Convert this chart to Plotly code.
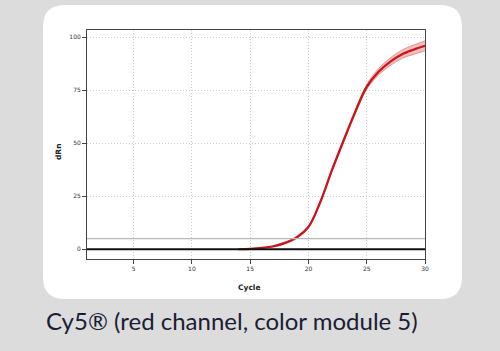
import plotly.graph_objects as go

cycles = [14, 15, 16, 17, 18, 19, 20, 21, 22, 23, 24, 25, 26, 27, 28, 29, 30]
dRn_mean = [0.0, 0.2, 0.6, 1.4, 3.0, 5.6, 10.5, 22.0, 37.0, 51.0, 64.5, 76.5, 83.5, 88.3, 91.8, 94.0, 95.8]
dRn_spread = [0.0, 0.1, 0.2, 0.3, 0.4, 0.5, 0.6, 0.7, 0.8, 0.9, 1.0, 1.2, 1.5, 1.8, 2.0, 2.2, 2.4]
threshold = 5
x_ticks = [5, 10, 15, 20, 25, 30]
y_ticks = [0, 25, 50, 75, 100]
caption = "Cy5\u00ae (red channel, color module 5)"

W, H = 500, 351
ml, mr, mt, mb = 87, 75, 30, 92
pw, ph = W - ml - mr, H - mt - mb

def px(x):
    return (x - ml) / pw

def py(y):
    return (H - mb - y) / ph

upper = [m + s for m, s in zip(dRn_mean, dRn_spread)]
lower = [m - s for m, s in zip(dRn_mean, dRn_spread)]

fig = go.Figure()
fig.add_trace(go.Scatter(x=cycles, y=upper, mode="lines", line=dict(color="rgba(220,70,70,0.6)", width=0.8, shape="spline"),
                         showlegend=False, hoverinfo="skip"))
fig.add_trace(go.Scatter(x=cycles, y=lower, mode="lines", line=dict(color="rgba(220,70,70,0.6)", width=0.8, shape="spline"),
                         fill="tonexty", fillcolor="rgba(230,110,110,0.45)", showlegend=False, hoverinfo="skip"))
fig.add_trace(go.Scatter(x=cycles, y=dRn_mean, mode="lines", line=dict(color="#c8141a", width=2.2, shape="spline"),
                         showlegend=False))

# threshold and baseline
fig.add_shape(type="line", xref="paper", x0=0, x1=1, yref="y", y0=threshold, y1=threshold,
              line=dict(color="#b8b8b8", width=1.2), layer="above")
fig.add_shape(type="line", xref="paper", x0=0, x1=1, yref="y", y0=0, y1=0,
              line=dict(color="#111111", width=2.2), layer="above")

# rounded white card
x0, x1, y0, y1, r = 43, 462, 5, 299, 22
path = (f"M {px(x0+r)} {py(y0)} L {px(x1-r)} {py(y0)} Q {px(x1)} {py(y0)} {px(x1)} {py(y0+r)} "
        f"L {px(x1)} {py(y1-r)} Q {px(x1)} {py(y1)} {px(x1-r)} {py(y1)} "
        f"L {px(x0+r)} {py(y1)} Q {px(x0)} {py(y1)} {px(x0)} {py(y1-r)} "
        f"L {px(x0)} {py(y0+r)} Q {px(x0)} {py(y0)} {px(x0+r)} {py(y0)} Z")
fig.add_shape(type="path", xref="paper", yref="paper", path=path, fillcolor="white",
              line=dict(width=0), layer="below")

fig.add_annotation(text="<b>dRn</b>", xref="paper", yref="paper", x=px(58), y=py(152), showarrow=False,
                   textangle=-90, font=dict(family="DejaVu Sans", size=7.5, color="#222222"),
                   xanchor="center", yanchor="middle")
fig.add_annotation(text="<b>Cycle</b>", xref="paper", yref="paper", x=px(249), y=py(287), showarrow=False,
                   font=dict(family="DejaVu Sans", size=7.5, color="#222222"), xanchor="center", yanchor="middle")
fig.add_annotation(text=caption, xref="paper", yref="paper", x=px(44), y=py(320), showarrow=False,
                   font=dict(family="Lato", size=24, color="#1b1d33"), xanchor="left", yanchor="middle")

fig.update_layout(
    width=W, height=H,
    margin=dict(l=ml, r=mr, t=mt, b=mb),
    paper_bgcolor="#dcdcdc", plot_bgcolor="white",
    font=dict(family="DejaVu Sans", size=6, color="#333333"),
)
grid = dict(showgrid=True, gridcolor="#cccccc", griddash="1px,2px", gridwidth=1, zeroline=False)
fig.update_xaxes(range=[1, 30], tickvals=x_ticks, ticks="outside", ticklen=4, tickcolor="#444",
                 showline=True, linecolor="#444", linewidth=1, mirror=True,
                 tickfont=dict(size=6, color="#333"), **grid)
fig.update_yaxes(range=[-4.6, 103.3], tickvals=y_ticks, ticks="outside", ticklen=4, tickcolor="#444",
                 showline=True, linecolor="#444", linewidth=1, mirror=True,
                 tickfont=dict(size=6, color="#333"), **grid)

fig.write_html("out.html")
